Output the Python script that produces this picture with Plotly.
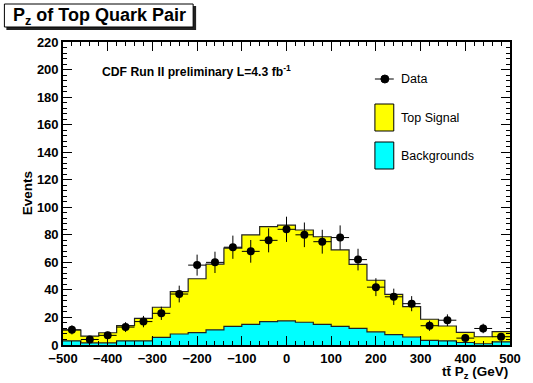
import numpy as np
import plotly.graph_objects as go

# ttbar longitudinal momentum, 25 bins of 40 GeV from -500 to 500
bin_edges = list(range(-500, 501, 40))
data_counts = [11, 4, 7, 13, 17, 23, 37, 58, 60, 71, 68, 76, 84,
               80, 75, 78, 62, 42, 35, 30, 14, 18, 5, 12, 6]
signal = [7.9, 5.0, 7.4, 11.0, 16.4, 21.9, 30.7, 39.1, 47.7, 56.9, 64.9, 68.9, 69.6,
          67.0, 63.6, 55.5, 46.6, 37.5, 29.3, 22.0, 15.4, 10.8, 7.4, 5.1, 7.4]
backgrounds = [3.0, 1.5, 1.5, 3.0, 3.0, 5.5, 8.0, 9.0, 11.0, 13.5, 15.0, 17.0, 17.5,
               16.5, 15.0, 13.5, 12.0, 9.5, 7.5, 5.8, 3.3, 3.0, 1.8, 0.9, 2.3]
x_ticks = [-500, -400, -300, -200, -100, 0, 100, 200, 300, 400, 500]
y_ticks = list(range(0, 221, 20))

edges = np.array(bin_edges, dtype=float)
centers = 0.5 * (edges[:-1] + edges[1:])
half_width = 0.5 * (edges[1:] - edges[:-1])
bkg = np.array(backgrounds)
total = np.array(signal) + bkg
obs = np.array(data_counts, dtype=float)


def step_y(vals):
    return list(vals) + [vals[-1]]


fig = go.Figure()

# stacked histogram: signal on top of backgrounds
fig.add_trace(go.Scatter(
    x=edges, y=step_y(total), mode="lines", line_shape="hv",
    line=dict(color="#222222", width=1.2), fill="tozeroy", fillcolor="#ffff00",
    hoverinfo="skip", showlegend=False))
fig.add_trace(go.Scatter(
    x=edges, y=step_y(bkg), mode="lines", line_shape="hv",
    line=dict(color="#222222", width=1.2), fill="tozeroy", fillcolor="#00ffff",
    hoverinfo="skip", showlegend=False))

# observed events with Poisson errors
fig.add_trace(go.Scatter(
    x=centers, y=obs, mode="markers",
    marker=dict(color="black", size=8, symbol="circle"),
    error_y=dict(type="data", array=np.sqrt(obs), width=0, thickness=1, color="black"),
    error_x=dict(type="data", array=half_width, width=0, thickness=1, color="black"),
    showlegend=False))

# plot frame in pixels
L, R, T, B = 63, 513, 42, 345


def px(x):
    return (x - L) / (R - L)


def py(y):
    return (B - y) / (B - T)


axis_font = dict(family="Liberation Sans", size=13, color="black", weight="bold")

fig.update_layout(
    width=533, height=383,
    margin=dict(l=L, r=533 - R, t=T, b=383 - B),
    paper_bgcolor="white", plot_bgcolor="white",
    font=dict(family="Liberation Sans", color="black"),
    xaxis=dict(
        range=[-500, 500], tickvals=x_ticks, ticks="inside", ticklen=9, tickwidth=1,
        tickcolor="black", showline=True, linecolor="black", linewidth=1.6, mirror="ticks",
        showgrid=False, zeroline=False, tickfont=axis_font, ticklabelstandoff=1,
        minor=dict(dtick=20, ticks="inside", ticklen=4.5, tickcolor="black", showgrid=False),
    ),
    yaxis=dict(
        range=[0, 220], tickvals=y_ticks, ticks="inside", ticklen=9, tickwidth=1,
        tickcolor="black", showline=True, linecolor="black", linewidth=1.6, mirror="ticks",
        showgrid=False, zeroline=False, tickfont=axis_font,
        minor=dict(dtick=4, ticks="inside", ticklen=4.5, tickcolor="black", showgrid=False),
    ),
)

shapes = []
annotations = []

# title box with shadow
shapes.append(dict(type="rect", xref="paper", yref="paper", layer="above",
                   x0=px(6), x1=px(197), y0=py(30), y1=py(6),
                   fillcolor="#222222", line=dict(width=0)))
shapes.append(dict(type="rect", xref="paper", yref="paper", layer="above",
                   x0=px(4), x1=px(194), y0=py(27), y1=py(4),
                   fillcolor="white", line=dict(color="black", width=1)))
annotations.append(dict(text="P<sub>z</sub> of Top Quark Pair", xref="paper", yref="paper",
                        x=px(100), y=py(16), xanchor="center", yanchor="middle",
                        showarrow=False,
                        font=dict(family="Liberation Sans", size=18, weight="bold")))

annotations.append(dict(text="CDF Run II preliminary L=4.3 fb<sup>-1</sup>",
                        xref="paper", yref="paper", x=px(100), y=py(71),
                        xanchor="left", yanchor="middle", showarrow=False,
                        font=dict(family="Liberation Sans", size=12.2, weight="bold")))

# legend
shapes.append(dict(type="line", xref="paper", yref="paper", layer="above",
                   x0=px(377), x1=px(396), y0=py(79), y1=py(79),
                   line=dict(color="black", width=1)))
shapes.append(dict(type="circle", xref="paper", yref="paper", layer="above",
                   x0=px(383), x1=px(391), y0=py(83), y1=py(75),
                   fillcolor="black", line=dict(color="black", width=1)))
shapes.append(dict(type="rect", xref="paper", yref="paper", layer="above",
                   x0=px(377), x1=px(396), y0=py(131), y1=py(104),
                   fillcolor="#ffff00", line=dict(color="black", width=1)))
shapes.append(dict(type="rect", xref="paper", yref="paper", layer="above",
                   x0=px(377), x1=px(396), y0=py(169), y1=py(142),
                   fillcolor="#00ffff", line=dict(color="black", width=1)))
for label, ypix in [("Data", 79), ("Top Signal", 118), ("Backgrounds", 156)]:
    annotations.append(dict(text=label, xref="paper", yref="paper", x=px(401), y=py(ypix),
                            xanchor="left", yanchor="middle", showarrow=False,
                            font=dict(family="Liberation Sans", size=12.5)))

# axis titles
annotations.append(dict(text="tt\u0304 P<sub>z</sub> (GeV)",
                        xref="paper", yref="paper", x=px(513), y=py(372),
                        xanchor="right", yanchor="middle", showarrow=False,
                        font=dict(family="Liberation Sans", size=13.5, weight="bold")))
annotations.append(dict(text="Events", xref="paper", yref="paper", x=px(27), y=py(193),
                        xanchor="center", yanchor="middle", textangle=-90, showarrow=False,
                        font=dict(family="Liberation Sans", size=13.5, weight="bold")))

fig.update_layout(shapes=shapes, annotations=annotations)
fig.write_html("out.html")
